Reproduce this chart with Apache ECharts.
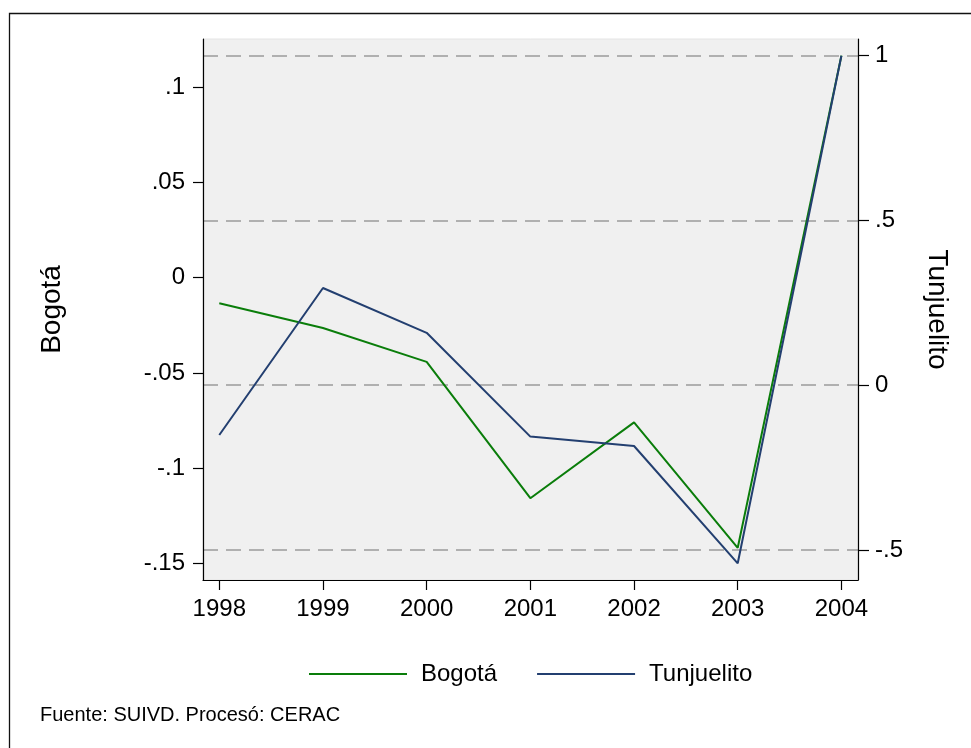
<!DOCTYPE html>
<html>
<head>
<meta charset="utf-8">
<title>Bogotá - Tunjuelito</title>
<script src="https://cdn.jsdelivr.net/npm/echarts@6/dist/echarts.min.js"></script>
<style>
  html, body { margin: 0; padding: 0; background: #fff; }
  #chart { width: 971px; height: 748px; }
</style>
</head>
<body>
<div id="chart"></div>
<script>
// años (eje x)
const years = [1998, 1999, 2000, 2001, 2002, 2003, 2004];
// serie Bogotá, eje izquierdo
const bogota = [-0.0134, -0.0264, -0.0442, -0.1157, -0.0759, -0.1417, 0.1165];
// serie Tunjuelito, eje derecho
const tunjuelito = [-0.151, 0.295, 0.159, -0.156, -0.1845, -0.5405, 1.0];
// marcas de los ejes
const leftTicks = [-0.15, -0.1, -0.05, 0, 0.05, 0.1];
const rightTicks = [-0.5, 0, 0.5, 1];

const FONT = '"Liberation Sans", Arial, sans-serif';

// formato tipo Stata: .05 en vez de 0.05
const stataFmt = v => String(v).replace('0.', '.');

const chart = echarts.init(document.getElementById('chart'));

const option = {
  animation: false,
  textStyle: { fontFamily: FONT, color: '#000' },
  title: {
    text: 'Fuente: SUIVD. Procesó: CERAC',
    left: 40,
    top: 705,
    padding: 0,
    textStyle: { fontFamily: FONT, fontSize: 20, fontWeight: 'normal', color: '#000' }
  },
  graphic: [
    {
      type: 'rect',
      shape: { x: 9.5, y: 13.5, width: 1000, height: 1000 },
      style: { fill: 'none', stroke: '#111', lineWidth: 1.3 },
      silent: true
    }
  ],
  grid: {
    left: 203,
    right: 113,
    top: 39,
    bottom: 168,
    show: true,
    backgroundColor: '#f0f0f0',
    borderColor: '#e4e4e4',
    borderWidth: 1
  },
  legend: {
    left: 304,
    top: 657,
    icon: 'rect',
    itemWidth: 98,
    itemHeight: 2,
    itemGap: 40,
    textStyle: { fontFamily: FONT, fontSize: 24, color: '#000', padding: [0, 0, 0, 9] },
    data: ['Bogotá', 'Tunjuelito']
  },
  xAxis: {
    type: 'value',
    min: 1997.843,
    max: 2004.16,
    axisLine: { show: true, onZero: false, lineStyle: { color: '#000', width: 1.2 } },
    axisTick: { show: true, length: 10, customValues: years, lineStyle: { color: '#000', width: 1.2 } },
    axisLabel: { customValues: years, margin: 17, fontSize: 24, color: '#000', formatter: v => String(v) },
    splitLine: { show: false }
  },
  yAxis: [
    {
      type: 'value',
      position: 'left',
      min: -0.1586,
      max: 0.1252,
      name: 'Bogotá',
      nameLocation: 'middle',
      nameRotate: 90,
      nameGap: 137,
      nameTextStyle: { fontFamily: FONT, fontSize: 28, color: '#000' },
      axisLine: { show: true, onZero: false, lineStyle: { color: '#000', width: 1.2 } },
      axisTick: { show: true, length: 10, customValues: leftTicks, lineStyle: { color: '#000', width: 1.2 } },
      axisLabel: { customValues: leftTicks, margin: 18, fontSize: 24, color: '#000', formatter: stataFmt },
      splitLine: { show: false }
    },
    {
      type: 'value',
      position: 'right',
      min: -0.5912,
      max: 1.0507,
      name: 'Tunjuelito',
      nameLocation: 'middle',
      nameRotate: -90,
      nameGap: 65,
      nameTextStyle: { fontFamily: FONT, fontSize: 28, color: '#000' },
      axisLine: { show: true, onZero: false, lineStyle: { color: '#000', width: 1.2 } },
      axisTick: { show: true, length: 11, customValues: rightTicks, lineStyle: { color: '#000', width: 1.2 } },
      axisLabel: { customValues: rightTicks, margin: 17, fontSize: 24, color: '#000', formatter: stataFmt },
      splitLine: {
        show: true,
        lineStyle: { color: '#9a9a9a', width: 1.5, type: [15, 8] }
      }
    }
  ],
  series: [
    {
      name: 'Bogotá',
      type: 'line',
      yAxisIndex: 0,
      symbol: 'none',
      lineStyle: { color: '#0a7d0a', width: 2 },
      itemStyle: { color: '#0a7d0a' },
      data: years.map((y, i) => [y, bogota[i]])
    },
    {
      name: 'Tunjuelito',
      type: 'line',
      yAxisIndex: 1,
      symbol: 'none',
      lineStyle: { color: '#233f70', width: 2 },
      itemStyle: { color: '#233f70' },
      data: years.map((y, i) => [y, tunjuelito[i]])
    }
  ]
};

chart.setOption(option);
</script>
</body>
</html>
